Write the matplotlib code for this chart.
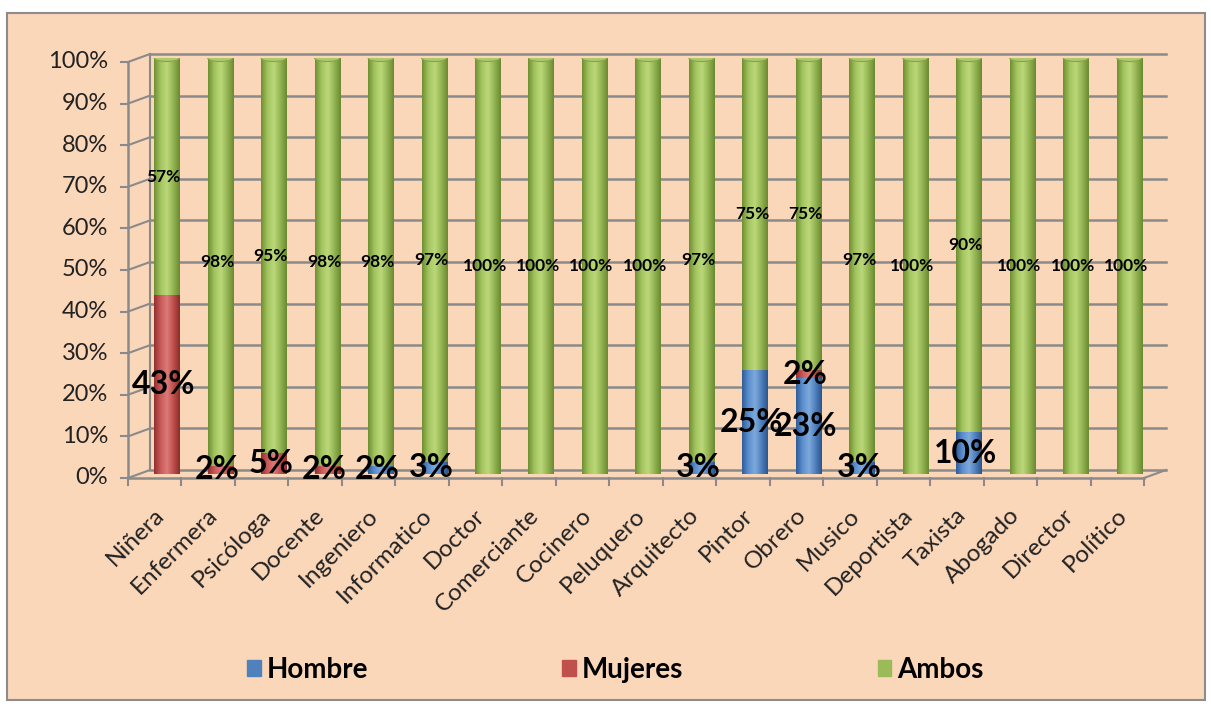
import numpy as np
import matplotlib.pyplot as plt
from matplotlib.patches import Rectangle, Ellipse
from matplotlib.colors import LinearSegmentedColormap

plt.rcParams['font.family'] = ['Lato', 'DejaVu Sans']

categories = ['Niñera', 'Enfermera', 'Psicóloga', 'Docente', 'Ingeniero',
              'Informatico', 'Doctor', 'Comerciante', 'Cocinero', 'Peluquero',
              'Arquitecto', 'Pintor', 'Obrero', 'Musico', 'Deportista',
              'Taxista', 'Abogado', 'Director', 'Político']
hombre = [0, 0, 0, 0, 2, 3, 0, 0, 0, 0, 3, 25, 23, 3, 0, 10, 0, 0, 0]
mujeres = [43, 2, 5, 2, 0, 0, 0, 0, 0, 0, 0, 0, 2, 0, 0, 0, 0, 0, 0]
ambos = [57, 98, 95, 98, 98, 97, 100, 100, 100, 100, 97, 75, 75, 97, 100,
         90, 100, 100, 100]
y_ticks = [0, 10, 20, 30, 40, 50, 60, 70, 80, 90, 100]

bg = '#FBD7BA'
grid_c = '#8A8A8A'
colors = {'Hombre': '#4F81BD', 'Mujeres': '#C0504D', 'Ambos': '#9BBB59'}
shades = {
    'Hombre': ['#2F5E99', '#5B8FCF', '#7FA9DC', '#4F81BD', '#2A5590'],
    'Mujeres': ['#92302D', '#C9595A', '#DB7B78', '#C0504D', '#8A2D2A'],
    'Ambos': ['#6F8F33', '#A3C45F', '#BCD87A', '#94B553', '#6A8A30'],
}

fig = plt.figure(figsize=(12.11, 7.04), dpi=100)
fig.patches.append(Rectangle((7 / 1211, 4 / 704), 1198 / 1211, 687 / 704,
                             transform=fig.transFigure, facecolor=bg,
                             edgecolor='#8C8C8C', lw=1.5, zorder=-5))

# axes = middle depth plane where the bars stand
ax = fig.add_axes([140 / 1211, (704 - 474) / 704, 1016 / 1211, 416 / 704])
ax.set_facecolor('none')
ax.axis('off')

n = len(categories)
x = np.arange(n)
px = 1 / 53.5          # x data units per pixel
py = 100 / 416         # y data units per pixel
dxf, dyf = -12 * px, -4 * py   # front plane offset
dxb, dyb = 10 * px, 4 * py     # back plane offset
x0, x1 = -0.5, n - 0.5

# back wall grid, left wall, floor
for t in y_ticks:
    ax.plot([x0 + dxb, x1 + dxb], [t + dyb, t + dyb], color=grid_c, lw=1.8,
            clip_on=False, zorder=1)
    ax.plot([x0 + dxf, x0 + dxb], [t + dyf, t + dyb], color=grid_c, lw=1.5,
            clip_on=False, zorder=1)
    ax.plot([x0 + dxf - 7 * px, x0 + dxf], [t + dyf, t + dyf], color=grid_c,
            lw=1.5, clip_on=False, zorder=1)
    ax.text(x0 + dxf - 20 * px, t + dyf, f'{t}%', ha='right', va='center',
            fontsize=17, color='#222222')
ax.plot([x0 + dxb, x0 + dxb], [dyb, 100 + dyb], color=grid_c, lw=1.5,
        clip_on=False, zorder=1)
ax.plot([x0 + dxf, x0 + dxf], [dyf, 100 + dyf], color=grid_c, lw=1.8,
        clip_on=False, zorder=1)
ax.plot([x0 + dxf, x1 + dxf], [dyf, dyf], color=grid_c, lw=1.8,
        clip_on=False, zorder=1)
ax.plot([x1 + dxf, x1 + dxb], [dyf, dyb], color=grid_c, lw=1.5,
        clip_on=False, zorder=1)
for k in range(n + 1):
    ax.plot([k - 0.5 + dxf] * 2, [dyf, dyf - 7 * py], color=grid_c, lw=1.5,
            clip_on=False, zorder=1)

# cylinders
bw = 0.47
grad = np.linspace(0, 1, 64).reshape(1, -1)
bottom = np.zeros(n)
series = [('Hombre', hombre), ('Mujeres', mujeres), ('Ambos', ambos)]
first_color = [None] * n
for name, vals in series:
    vals = np.array(vals, dtype=float)
    cmap = LinearSegmentedColormap.from_list(name, shades[name])
    bars = ax.bar(x, vals, bw, bottom=bottom, color=colors[name],
                  edgecolor='none', zorder=3)
    for i, p in enumerate(bars):
        if vals[i] <= 0:
            continue
        if first_color[i] is None:
            first_color[i] = shades[name][1]
        im = ax.imshow(grad, cmap=cmap, aspect='auto', zorder=3,
                       extent=[p.get_x(), p.get_x() + p.get_width(),
                               p.get_y(), p.get_y() + p.get_height()])
        im.set_clip_path(p)
    bottom += vals

for i in range(n):
    ax.add_patch(Ellipse((i, 0), bw, 7 * py, facecolor=first_color[i],
                         edgecolor='none', zorder=2))
    ax.add_patch(Ellipse((i, bottom[i]), bw, 7 * py, facecolor='#AECB6C',
                         edgecolor='#86A447', lw=0.8, zorder=4))

# data labels
lx = -3 * px
for i in range(n):
    if hombre[i] > 0:
        ax.text(i + lx, hombre[i] / 2, f'{hombre[i]}%', ha='center',
                va='center', fontsize=23, fontweight='bold', zorder=6)
    if mujeres[i] > 0:
        ax.text(i + lx, hombre[i] + mujeres[i] / 2, f'{mujeres[i]}%',
                ha='center', va='center', fontsize=23, fontweight='bold',
                zorder=6)
    ax.text(i + lx, hombre[i] + mujeres[i] + ambos[i] / 2, f'{ambos[i]}%',
            ha='center', va='center', fontsize=12.5, fontweight='bold',
            zorder=6)

# category labels
for i, c in enumerate(categories):
    ax.text(i + dxf + 6 * px, -38 * py, c, rotation=45, ha='right',
            va='center', rotation_mode='anchor', fontsize=17.5,
            color='#222222')

ax.set_xlim(x0, x1)
ax.set_ylim(0, 100)

handles = [Rectangle((0, 0), 1, 1, color=colors[s]) for s, _ in series]
fig.legend(handles, [s for s, _ in series], loc='center', ncol=3,
           bbox_to_anchor=(0.508, 0.048), frameon=False,
           prop={'size': 20, 'weight': 'bold'}, handlelength=0.5,
           handleheight=0.5, handletextpad=0.2, columnspacing=7.0)

fig.savefig('out.png', dpi=100)
